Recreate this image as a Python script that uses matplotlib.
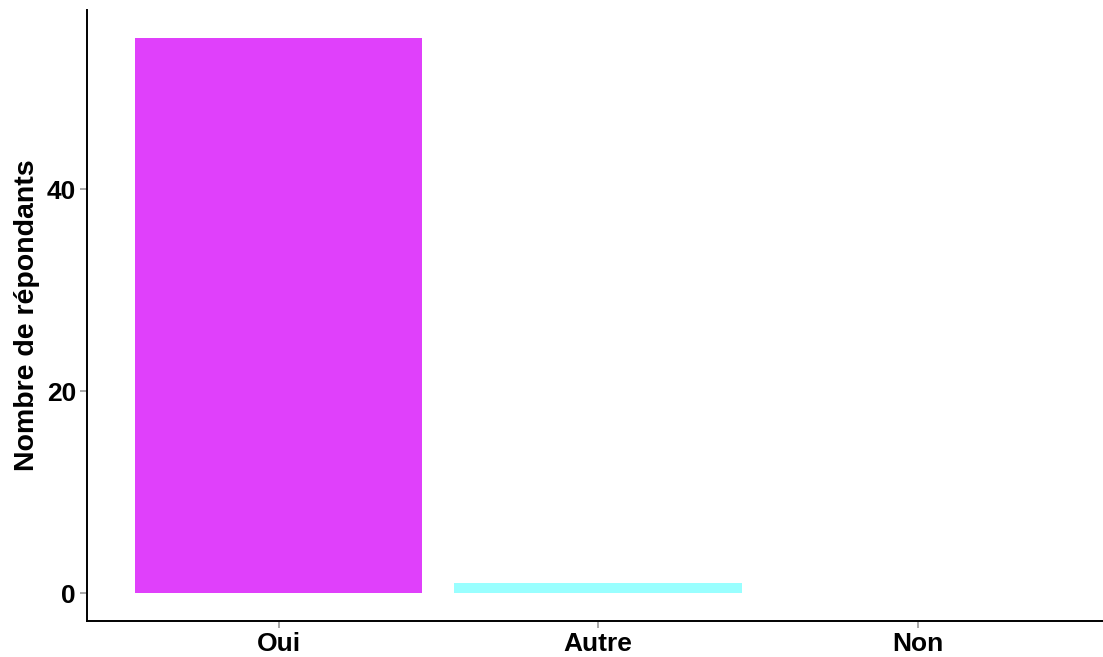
import matplotlib
matplotlib.use("Agg")
import matplotlib.pyplot as plt

# --- Data ---
categories = ["Oui", "Autre", "Non"]
counts = [55, 1, 0]
bar_colors = ["#E040FB", "#99FFFF", "#FFFFFF"]

plt.rcParams['font.family'] = ['Liberation Sans', 'DejaVu Sans']

fig = plt.figure(figsize=(11.03, 6.57), dpi=100)
ax = fig.add_axes([0.0789, 0.0548, 0.9211, 0.93])

x = list(range(len(categories)))
ax.bar(x, counts, width=0.9, color=bar_colors)

ax.set_xlim(-0.6, 2.58)
ax.set_ylim(-2.75, 57.75)
ax.set_xticks(x)
ax.set_xticklabels(categories, fontsize=19, fontweight='bold')
ax.set_yticks([0, 20, 40])
ax.set_yticklabels(["0", "20", "40"], fontsize=19, fontweight='bold')
ax.set_ylabel("Nombre de répondants", fontsize=20.5, fontweight='bold', labelpad=5)

for side in ['top', 'right']:
    ax.spines[side].set_visible(False)
for side in ['left', 'bottom']:
    ax.spines[side].set_linewidth(1.4)
ax.tick_params(axis='both', color='#999999', length=5, width=1.2)
ax.tick_params(axis='x', pad=3)
ax.tick_params(axis='y', pad=3)

fig.savefig("out.png", dpi=100)
